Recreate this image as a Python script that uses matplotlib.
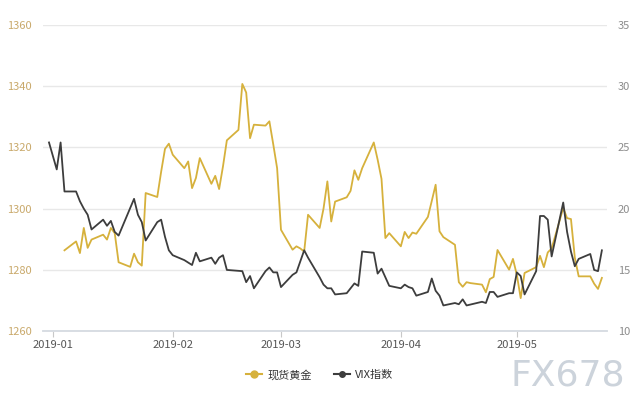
import numpy as np
import pandas as pd
import matplotlib
matplotlib.use("Agg")
import matplotlib.pyplot as plt
import matplotlib.dates as mdates
from matplotlib.lines import Line2D

plt.rcParams['font.family'] = ['Noto Sans CJK SC', 'DejaVu Sans']

# 现货黄金 (weekdays 2019-01-04 .. 2019-05-23)
gold_dates = pd.bdate_range('2019-01-04', '2019-05-23')
gold = [
    1286.4, 1289.3, 1285.5, 1293.7, 1287.2, 1289.9, 1291.5, 1289.9, 1293.7, 1292.0,
    1282.5, 1281.0, 1285.3, 1282.5, 1281.4, 1305.1, 1303.8, 1312.0, 1319.5, 1321.2,
    1317.6, 1313.2, 1315.4, 1306.7, 1310.0, 1316.5, 1308.1, 1310.7, 1306.4, 1313.8,
    1322.3, 1325.7, 1340.7, 1337.9, 1323.0, 1327.4, 1327.1, 1328.5, 1321.0, 1313.2,
    1293.1, 1286.6, 1287.7, 1287.0, 1286.0, 1298.0, 1293.7, 1300.0, 1308.9, 1295.8,
    1302.3, 1303.7, 1305.8, 1312.5, 1309.4, 1313.2, 1321.6, 1316.0, 1309.7, 1290.4,
    1292.0,
    1287.7, 1292.4, 1290.4, 1292.2, 1291.8, 1297.3, 1302.5, 1307.8, 1292.6, 1290.7,
    1288.2, 1276.0, 1274.5, 1276.0, 1275.7, 1275.2, 1272.7, 1277.0, 1277.7, 1286.5,
    1280.1, 1283.6,
    1278.4, 1270.8, 1279.0, 1280.9, 1284.6, 1280.9, 1285.7, 1287.0, 1300.2, 1296.9,
    1296.6, 1284.0, 1277.9, 1277.9, 1275.5, 1273.8, 1277.4,
]

# VIX指数 (US trading days 2018-12-31 .. 2019-05-23)
vix_holidays = ['2019-01-01', '2019-01-21', '2019-02-18', '2019-04-19']
vix_dates = pd.bdate_range('2018-12-31', '2019-05-23', freq='C', holidays=vix_holidays)
vix = [
    25.4,
    23.2, 25.4, 21.4, 21.4, 20.6, 20.0, 19.5, 18.3, 19.1, 18.6,
    19.0, 18.1, 17.8, 20.8, 19.5, 18.9, 17.4, 18.9, 19.1, 17.7, 16.6,
    16.2, 15.8, 15.6, 15.4, 16.4, 15.7, 16.0, 15.5, 16.0, 16.2,
    15.0, 14.9, 14.0, 14.5, 13.5, 14.9, 15.2, 14.8, 14.8,
    13.6, 14.6, 14.8, 15.7, 16.6, 16.0, 14.4, 13.8, 13.5, 13.5,
    13.0, 13.1, 13.5, 13.9, 13.7, 16.5, 16.4, 14.7, 15.1, 14.4, 13.7,
    13.5, 13.8, 13.6, 13.5, 12.9, 13.2, 14.3, 13.3, 12.9, 12.1,
    12.3, 12.2, 12.6, 12.1, 12.4, 12.3, 13.2, 13.2, 12.8, 13.1, 13.1,
    14.8, 14.5, 13.0, 14.9, 19.4, 19.4, 19.1, 16.1, 20.5, 18.1,
    16.5, 15.3, 15.9, 16.3, 15.0, 14.9, 16.6,
]

gold_color = '#d6b13c'
vix_color = '#3d3d3d'

fig = plt.figure(figsize=(6.4, 4.0), dpi=100)
ax = fig.add_axes([0.067, 0.172, 0.881, 0.766])
ax2 = ax.twinx()

ax.plot(gold_dates, gold, color=gold_color, lw=1.3, zorder=3)
ax2.plot(vix_dates, vix, color=vix_color, lw=1.3, zorder=3)

ax.set_ylim(1260, 1360)
ax.set_yticks(np.arange(1260, 1361, 20))
ax2.set_ylim(10, 35)
ax2.set_yticks(np.arange(10, 36, 5))
ax.set_xlim(pd.Timestamp('2018-12-29 10:00'), pd.Timestamp('2019-05-24 06:00'))

ax.xaxis.set_major_locator(mdates.MonthLocator())
ax.xaxis.set_major_formatter(mdates.DateFormatter('%Y-%m'))

ax.grid(axis='y', color='#e8e8e8', lw=1)
ax.set_axisbelow(True)
for a in (ax, ax2):
    for s in ('top', 'left', 'right'):
        a.spines[s].set_visible(False)
    a.spines['bottom'].set_color('#d8dde3')
    a.spines['bottom'].set_linewidth(1.2)

ax.tick_params(axis='y', length=0, labelsize=8, labelcolor='#c9a96b', pad=8)
ax2.tick_params(axis='y', length=0, labelsize=8, labelcolor='#8c8c8c', pad=8)
ax.tick_params(axis='x', length=4, color='#c8c8c8', labelsize=8, labelcolor='#555555', pad=2)

handles = [
    Line2D([], [], color=gold_color, lw=1.5, marker='o', markersize=5),
    Line2D([], [], color=vix_color, lw=1.5, marker='o', markersize=4),
]
fig.legend(handles, ['现货黄金', 'VIX指数'], loc='center', bbox_to_anchor=(0.5, 0.063),
           ncol=2, frameon=False, fontsize=8, handlelength=1.4, columnspacing=2.0,
           handletextpad=0.5, labelcolor='#333333')

fig.text(0.977, 0.018, 'FX678', ha='right', va='bottom', fontsize=26,
         color='#ccd3db', family='DejaVu Sans')

fig.savefig('out.png', dpi=100)
